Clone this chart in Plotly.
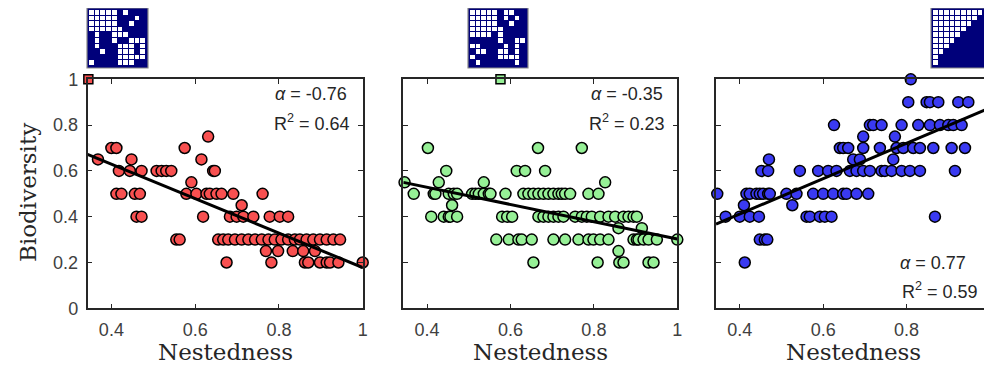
import plotly.graph_objects as go

# page is 992 x 365; the browser body adds an 8 px margin at the top-left
PAGE_W, PAGE_H, OFF = 992, 365, 8
W, H = PAGE_W - OFF, PAGE_H - OFF

# ---------------- data ----------------
x_red = [0.631,
         0.400, 0.412, 0.575,
         0.368, 0.448, 0.615,
         0.418, 0.444, 0.472, 0.508, 0.520, 0.531, 0.543, 0.643, 0.647,
         0.591,
         0.412, 0.424, 0.456, 0.468, 0.579, 0.603, 0.627, 0.635, 0.651, 0.663, 0.691, 0.761,
         0.711,
         0.460, 0.472, 0.619, 0.683, 0.699, 0.715, 0.739, 0.778, 0.802, 0.822,
         0.555, 0.563, 0.655, 0.667, 0.679, 0.695, 0.711, 0.727, 0.743, 0.759, 0.775, 0.790,
         0.806, 0.822, 0.838, 0.850, 0.866, 0.882, 0.898, 0.914, 0.930, 0.946,
         0.769, 0.798, 0.833, 0.858, 0.886,
         0.675, 0.782, 0.862, 0.870, 0.898, 0.914, 0.922, 0.942, 1.000]
y_red = [0.75,
         0.70, 0.70, 0.70,
         0.65, 0.65, 0.65,
         0.60, 0.60, 0.60, 0.60, 0.60, 0.60, 0.60, 0.60, 0.60,
         0.55,
         0.50, 0.50, 0.50, 0.50, 0.50, 0.50, 0.50, 0.50, 0.50, 0.50, 0.50, 0.50,
         0.45,
         0.40, 0.40, 0.40, 0.40, 0.40, 0.40, 0.40, 0.40, 0.40, 0.40,
         0.30, 0.30, 0.30, 0.30, 0.30, 0.30, 0.30, 0.30, 0.30, 0.30, 0.30, 0.30,
         0.30, 0.30, 0.30, 0.30, 0.30, 0.30, 0.30, 0.30, 0.30, 0.30,
         0.25, 0.25, 0.25, 0.25, 0.25,
         0.20, 0.20, 0.20, 0.20, 0.20, 0.20, 0.20, 0.20, 0.20]

x_green = [0.402, 0.666, 0.771,
           0.446, 0.615, 0.635, 0.683,
           0.346, 0.428, 0.536, 0.827,
           0.368, 0.416, 0.420, 0.452, 0.464, 0.472, 0.508, 0.516, 0.524, 0.536, 0.548, 0.552, 0.588,
           0.631, 0.643, 0.655, 0.667, 0.679, 0.691, 0.703, 0.715, 0.723, 0.731, 0.743, 0.787, 0.811,
           0.460,
           0.410, 0.440, 0.452, 0.456, 0.472, 0.580, 0.592, 0.604, 0.667, 0.679, 0.691, 0.703, 0.715,
           0.727, 0.755, 0.771, 0.783, 0.795, 0.815, 0.835, 0.851, 0.871, 0.883, 0.895, 0.903,
           0.859, 0.915,
           0.566, 0.596, 0.619, 0.627, 0.651, 0.703, 0.731, 0.763, 0.787, 0.799, 0.815, 0.835,
           0.895, 0.903, 0.907, 0.919, 0.931, 0.951, 1.000,
           0.859,
           0.655, 0.809, 0.861, 0.871, 0.931, 0.943]
y_green = [0.70, 0.70, 0.70,
           0.60, 0.60, 0.60, 0.60,
           0.55, 0.55, 0.55, 0.55,
           0.50, 0.50, 0.50, 0.50, 0.50, 0.50, 0.50, 0.50, 0.50, 0.50, 0.50, 0.50, 0.50,
           0.50, 0.50, 0.50, 0.50, 0.50, 0.50, 0.50, 0.50, 0.50, 0.50, 0.50, 0.50, 0.50,
           0.45,
           0.40, 0.40, 0.40, 0.40, 0.40, 0.40, 0.40, 0.40, 0.40, 0.40, 0.40, 0.40, 0.40,
           0.40, 0.40, 0.40, 0.40, 0.40, 0.40, 0.40, 0.40, 0.40, 0.40, 0.40, 0.40,
           0.35, 0.35,
           0.30, 0.30, 0.30, 0.30, 0.30, 0.30, 0.30, 0.30, 0.30, 0.30, 0.30, 0.30,
           0.30, 0.30, 0.30, 0.30, 0.30, 0.30, 0.30,
           0.25,
           0.20, 0.20, 0.20, 0.20, 0.20, 0.20]

x_blue = [0.810,
          0.804, 0.848, 0.856, 0.876, 0.924, 0.948,
          0.626, 0.712, 0.720, 0.740, 0.788, 0.828, 0.856, 0.880, 0.900, 0.912, 0.932,
          0.696, 0.772,
          0.640, 0.648, 0.660, 0.696, 0.736, 0.776, 0.792, 0.816, 0.832, 0.864, 0.908, 0.940,
          0.470, 0.672, 0.688, 0.768,
          0.452, 0.468, 0.544, 0.588, 0.612, 0.632, 0.664, 0.680, 0.696, 0.712, 0.740, 0.748,
          0.764, 0.788, 0.808, 0.832, 0.916,
          0.346, 0.416, 0.424, 0.440, 0.448, 0.456, 0.468, 0.472, 0.512, 0.536, 0.576, 0.600,
          0.624, 0.648, 0.656, 0.680, 0.708,
          0.410, 0.526,
          0.366, 0.400, 0.424, 0.446, 0.560, 0.568, 0.592, 0.604, 0.620, 0.868,
          0.448, 0.460, 0.466,
          0.412]
y_blue = [1.00,
          0.90, 0.90, 0.90, 0.90, 0.90, 0.90,
          0.80, 0.80, 0.80, 0.80, 0.80, 0.80, 0.80, 0.80, 0.80, 0.80, 0.80,
          0.75, 0.75,
          0.70, 0.70, 0.70, 0.70, 0.70, 0.70, 0.70, 0.70, 0.70, 0.70, 0.70, 0.70,
          0.65, 0.65, 0.65, 0.65,
          0.60, 0.60, 0.60, 0.60, 0.60, 0.60, 0.60, 0.60, 0.60, 0.60, 0.60, 0.60,
          0.60, 0.60, 0.60, 0.60, 0.60,
          0.50, 0.50, 0.50, 0.50, 0.50, 0.50, 0.50, 0.50, 0.50, 0.50, 0.50, 0.50,
          0.50, 0.50, 0.50, 0.50, 0.50,
          0.45, 0.45,
          0.40, 0.40, 0.40, 0.40, 0.40, 0.40, 0.40, 0.40, 0.40, 0.40,
          0.30, 0.30, 0.30,
          0.20]

# regression lines (end points)
fit_x = [0.343, 1.0]
fit_red = [0.672, 0.178]
fit_green = [0.550, 0.303]
fit_blue = [0.368, 0.875]

# nestedness of the example matrices (squares on the top edge)
example_x = [0.345, 0.576, 1.0]
example_y = [1.0, 1.0, 1.0]

alpha_txt = ["-0.76", "-0.35", "0.77"]
r2_txt = ["0.64", "0.23", "0.59"]

x_ticks = [0.4, 0.6, 0.8, 1.0]
x_ticklabels = ["0.4", "0.6", "0.8", "1"]
y_ticks = [0, 0.2, 0.4, 0.6, 0.8, 1.0]
y_ticklabels = ["0", "0.2", "0.4", "0.6", "0.8", "1"]

# example interaction matrices (1 = white cell)
matrix_a = ["1111101000",
            "1111100010",
            "1111100100",
            "1111110000",
            "0100111000",
            "0100100111",
            "0100011101",
            "0010011101",
            "0000011111",
            "1000011100"]
matrix_b = ["1111101100",
            "1111101010",
            "1111100100",
            "1111110000",
            "1111010000",
            "0000010011",
            "1100001010",
            "0110011010",
            "1000011110",
            "0100000010"]
matrix_c_degrees = [9, 8, 7, 6, 5, 4, 3, 2, 1, 1]

# ---------------- style ----------------
RED, GREEN, BLUE = "#F85050", "#96F096", "#3A3AF2"
NAVY = "#00007A"
AX = "#262626"
SANS = "Liberation Sans, Arial, sans-serif"
TICKFONT = dict(family=SANS, size=18, color="#404040")
SERIF = "DejaVu Serif, serif"

def px_x(p):
    return (p - OFF) / W

def px_y(p):
    return 1 - (p - OFF) / H

panels_px = [(87.5, 362.7), (403.3, 677.3), (716.0, 990.0)]
y_top, y_bot = 79.3, 308.3
mats_px = [(87.0, 148.0), (468.0, 528.0), (931.0, 991.0)]
m_top, m_bot = 8.0, 68.0

fig = go.Figure()

series = [(x_red, y_red, fit_red, RED),
          (x_green, y_green, fit_green, GREEN),
          (x_blue, y_blue, fit_blue, BLUE)]

for i, (xs, ys, fy, col) in enumerate(series):
    xa = "x" if i == 0 else f"x{i+1}"
    ya = "y" if i == 0 else f"y{i+1}"
    fig.add_trace(go.Scatter(x=xs, y=ys, mode="markers", xaxis=xa, yaxis=ya,
                             marker=dict(size=11, color=col, line=dict(color="black", width=1.5)),
                             showlegend=False, cliponaxis=False))
    fig.add_trace(go.Scatter(x=fit_x, y=fy, mode="lines", xaxis=xa, yaxis=ya,
                             line=dict(color="black", width=3), showlegend=False))
    fig.add_trace(go.Scatter(x=[example_x[i]], y=[example_y[i]], mode="markers",
                             xaxis=xa, yaxis=ya, cliponaxis=False,
                             marker=dict(symbol="square", size=9, color=col,
                                         line=dict(color="black", width=1.5)),
                             showlegend=False))

# matrices as heatmaps
def mat_from_strings(rows):
    return [[int(c) for c in r] for r in rows]

mat_c = [[1 if c < d else 0 for c in range(10)] for d in matrix_c_degrees]
mats = [mat_from_strings(matrix_a), mat_from_strings(matrix_b), mat_c]

for j, m in enumerate(mats):
    k = 4 + j
    fig.add_trace(go.Heatmap(z=m, xaxis=f"x{k}", yaxis=f"y{k}", zmin=0, zmax=1,
                             colorscale=[[0, NAVY], [1, "#FFFFFF"]], showscale=False,
                             xgap=1, ygap=1, hoverinfo="skip"))

layout = dict(template="none", width=W, height=H, margin=dict(l=0, r=0, t=0, b=0, pad=0),
              paper_bgcolor="white", plot_bgcolor="white", showlegend=False,
              font=dict(family=SANS, color=AX))

for i, (x0, x1) in enumerate(panels_px):
    sx = "" if i == 0 else str(i + 1)
    layout[f"xaxis{sx}"] = dict(domain=[px_x(x0), px_x(x1)], range=[0.343, 1.0],
                                anchor="y" + sx, tickvals=x_ticks, ticktext=x_ticklabels,
                                ticks="inside", ticklen=5, tickwidth=1.2, tickcolor=AX,
                                showline=True, linecolor=AX, linewidth=1.5, mirror="allticks",
                                showgrid=False, zeroline=False, tickfont=TICKFONT,
                                ticklabelstandoff=4, automargin=False)
    layout[f"yaxis{sx}"] = dict(domain=[px_y(y_bot), px_y(y_top)], range=[0, 1.0],
                                anchor="x" + sx, tickvals=y_ticks, ticktext=y_ticklabels,
                                ticks="inside", ticklen=5, tickwidth=1.2, tickcolor=AX,
                                showline=True, linecolor=AX, linewidth=1.5, mirror="allticks",
                                showgrid=False, zeroline=False, tickfont=TICKFONT,
                                showticklabels=(i == 0), ticklabelstandoff=4, automargin=False)

shapes = []
for j, (x0, x1) in enumerate(mats_px):
    k = 4 + j
    inset = 2.0
    layout[f"xaxis{k}"] = dict(domain=[px_x(x0 + inset), px_x(x1 - inset)], anchor=f"y{k}",
                               visible=False, range=[-0.5, 9.5], fixedrange=True,
                               automargin=False, showgrid=False, zeroline=False)
    layout[f"yaxis{k}"] = dict(domain=[px_y(m_bot - inset), px_y(m_top + inset)], anchor=f"x{k}",
                               visible=False, range=[9.5, -0.5], fixedrange=True,
                               automargin=False, showgrid=False, zeroline=False)
    shapes.append(dict(type="rect", xref="paper", yref="paper", layer="below",
                       x0=px_x(x0), x1=px_x(x1), y0=px_y(m_bot), y1=px_y(m_top),
                       fillcolor=NAVY, line=dict(color="#8A8A8A", width=1.2)))
layout["shapes"] = shapes

ann = []
for i, (x0, x1) in enumerate(panels_px):
    ann.append(dict(x=px_x((x0 + x1) / 2), y=px_y(352), xref="paper", yref="paper",
                    text="Nestedness", showarrow=False, xanchor="center", yanchor="middle",
                    font=dict(family=SERIF, size=23, color=AX)))
ann.append(dict(x=px_x(28), y=px_y(193), xref="paper", yref="paper", text="Biodiversity",
                textangle=-90, showarrow=False, xanchor="center", yanchor="middle",
                font=dict(family=SERIF, size=23, color=AX)))

stat_pos = [((349, 94), (352, 123)), ((665, 94), (667, 123)), ((968, 263), (980, 290))]
for i, ((ax_, ay_), (rx_, ry_)) in enumerate(stat_pos):
    ann.append(dict(x=px_x(ax_), y=px_y(ay_), xref="paper", yref="paper",
                    text=f"<i>α</i> = {alpha_txt[i]}", showarrow=False,
                    xanchor="right", yanchor="middle",
                    font=dict(family=SANS, size=18, color=AX)))
    ann.append(dict(x=px_x(rx_), y=px_y(ry_), xref="paper", yref="paper",
                    text=f"R<sup>2</sup> = {r2_txt[i]}", showarrow=False,
                    xanchor="right", yanchor="middle",
                    font=dict(family=SANS, size=18, color=AX)))
layout["annotations"] = ann

fig.update_layout(**layout)
fig.write_html("out.html")
